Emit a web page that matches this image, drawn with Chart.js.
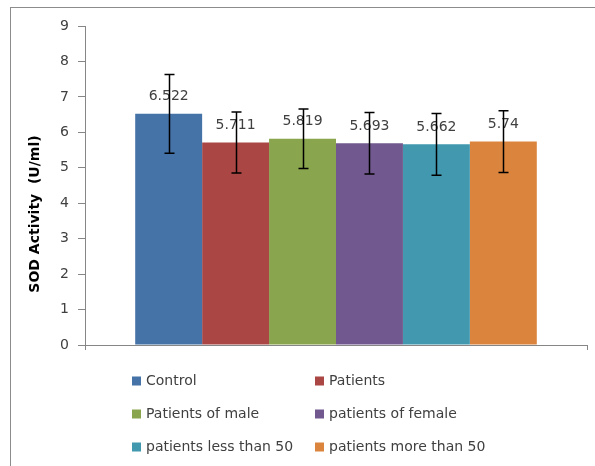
<!DOCTYPE html>
<html lang="en">
<head>
  <meta charset="UTF-8">
  <title>SOD Activity</title>
  <script src="https://cdn.jsdelivr.net/npm/chart.js"></script>
  <style>
    body { margin: 0; background: #fff; }
    canvas { display: block; }
  </style>
</head>
<body>
  <canvas id="grafico" width="595" height="466"></canvas>

  <script>
    // data
    const grupos = ['Control', 'Patients', 'Patients of male', 'patients of female', 'patients less than 50', 'patients more than 50'];
    const medias = [6.522, 5.711, 5.819, 5.693, 5.662, 5.74];
    const desvios = [1.11, 0.86, 0.84, 0.87, 0.87, 0.87];
    const rotulos = ['6.522', '5.711', '5.819', '5.693', '5.662', '5.74'];
    const cores = ['#4572A7', '#AA4643', '#89A54E', '#71588F', '#4198AF', '#DB843D'];
    const tituloY = 'SOD Activity  (U/ml)';

    const fonte = '"DejaVu Sans", sans-serif';
    const cinza = '#868686';

    // frame, y title, error bars, value labels and 2-column legend
    const extras = {
      id: 'extras',
      beforeDraw(chart) {
        const c = chart.ctx;
        c.save();
        c.strokeStyle = '#8c8c8c';
        c.lineWidth = 1;
        c.strokeRect(10.5, 7.5, 700, 700);
        c.restore();
      },
      afterDatasetsDraw(chart) {
        const c = chart.ctx;
        const y = chart.scales.y;
        c.save();
        // value labels
        c.font = '14px ' + fonte;
        c.fillStyle = '#404040';
        c.textAlign = 'center';
        c.textBaseline = 'middle';
        chart.data.datasets.forEach((ds, i) => {
          const bar = chart.getDatasetMeta(i).data[0];
          c.fillText(rotulos[i], bar.x, bar.y - 17);
        });
        // error bars
        c.strokeStyle = '#000';
        c.lineWidth = 1.5;
        chart.data.datasets.forEach((ds, i) => {
          const bar = chart.getDatasetMeta(i).data[0];
          const top = y.getPixelForValue(medias[i] + desvios[i]);
          const bot = y.getPixelForValue(medias[i] - desvios[i]);
          const x = Math.round(bar.x) + 0.5;
          c.beginPath();
          c.moveTo(x, top); c.lineTo(x, bot);
          c.moveTo(x - 5, top); c.lineTo(x + 5, top);
          c.moveTo(x - 5, bot); c.lineTo(x + 5, bot);
          c.stroke();
        });
        c.restore();
      },
      afterDraw(chart) {
        const c = chart.ctx;
        c.save();
        // y axis title
        c.font = 'bold 14px ' + fonte;
        c.fillStyle = '#000';
        c.textAlign = 'center';
        c.textBaseline = 'middle';
        c.translate(35, 214);
        c.rotate(-Math.PI / 2);
        c.fillText(tituloY, 0, 0);
        c.restore();

        // legend
        c.save();
        c.font = '14px ' + fonte;
        c.fillStyle = '#404040';
        c.textBaseline = 'middle';
        const colX = [132, 315];
        const rowY = [381, 414, 447];
        chart.data.datasets.forEach((ds, i) => {
          const x = colX[i % 2];
          const yy = rowY[Math.floor(i / 2)];
          c.fillStyle = ds.backgroundColor;
          c.fillRect(x, yy - 4.5, 9, 9);
          c.fillStyle = '#404040';
          c.fillText(ds.label, x + 14, yy);
        });
        c.restore();
      }
    };

    const ctx = document.getElementById('grafico').getContext('2d');
    new Chart(ctx, {
      type: 'bar',
      data: {
        labels: [''],
        datasets: grupos.map((g, i) => ({
          label: g,
          data: [medias[i]],
          backgroundColor: cores[i],
          borderWidth: 0,
          categoryPercentage: 0.8,
          barPercentage: 1
        }))
      },
      options: {
        responsive: false,
        animation: false,
        layout: { padding: { left: 0, top: 26, right: 8, bottom: 0 } },
        plugins: {
          legend: { display: false },
          tooltip: { enabled: false }
        },
        scales: {
          x: {
            grid: { drawOnChartArea: false, color: cinza, tickLength: 5 },
            border: { color: cinza },
            ticks: { display: true },
            afterFit(s) { s.height = 121; s.paddingLeft = 0; s.paddingRight = 0; }
          },
          y: {
            min: 0,
            max: 9,
            ticks: { stepSize: 1, color: '#404040', font: { family: fonte, size: 14 }, padding: 9 },
            grid: { drawOnChartArea: false, color: cinza, tickLength: 7 },
            border: { color: cinza },
            afterFit(s) { s.width = 85; s.paddingTop = 0; s.paddingBottom = 0; }
          }
        }
      },
      plugins: [extras]
    });
  </script>
</body>
</html>
